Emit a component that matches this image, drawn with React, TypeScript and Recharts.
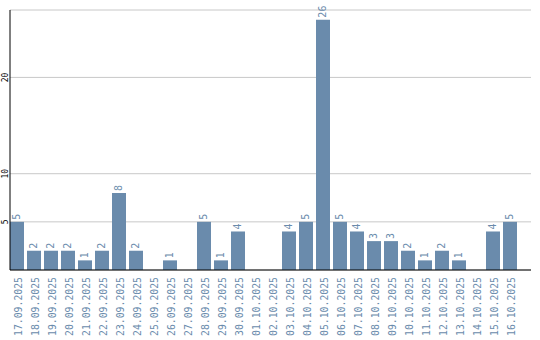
import { BarChart, Bar, XAxis, YAxis, CartesianGrid, LabelList, Rectangle } from "recharts";

const dates = [
  "17.09.2025", "18.09.2025", "19.09.2025", "20.09.2025", "21.09.2025",
  "22.09.2025", "23.09.2025", "24.09.2025", "25.09.2025", "26.09.2025",
  "27.09.2025", "28.09.2025", "29.09.2025", "30.09.2025", "01.10.2025",
  "02.10.2025", "03.10.2025", "04.10.2025", "05.10.2025", "06.10.2025",
  "07.10.2025", "08.10.2025", "09.10.2025", "10.10.2025", "11.10.2025",
  "12.10.2025", "13.10.2025", "14.10.2025", "15.10.2025", "16.10.2025",
];
const counts = [5, 2, 2, 2, 1, 2, 8, 2, 0, 1, 0, 5, 1, 4, 0, 0, 4, 5, 26, 5, 4, 3, 3, 2, 1, 2, 1, 0, 4, 5];
const yTicks = [5, 10, 20];

const data = dates.map((d, i) => ({ date: d, count: counts[i] }));

const BLUE = "#6a8bac";
const FONT = "'DejaVu Sans Mono', monospace";
const SHIFT = 1.5; // bars sit at the left of their slot

const DateTick = (props: any) => {
  const { x, payload } = props;
  const ty = 277;
  return (
    <text
      x={x}
      y={ty}
      dy="0.35em"
      textAnchor="end"
      transform={`rotate(-90, ${x}, ${ty})`}
      fill={BLUE}
      fontSize={9.8}
      fontFamily={FONT}
    >
      {payload.value}
    </text>
  );
};

const CountTick = (props: any) => {
  const { y, payload } = props;
  return (
    <text
      x={5}
      y={y}
      dy="0.35em"
      textAnchor="middle"
      transform={`rotate(-90, 5, ${y})`}
      fill="#000"
      fontSize={8}
      fontFamily={FONT}
    >
      {payload.value}
    </text>
  );
};

const ValueLabel = (props: any) => {
  const { x, y, width, value } = props;
  if (!value) return null;
  const cx = x - SHIFT + width / 2;
  const ty = y - 2;
  return (
    <text
      x={cx}
      y={ty}
      dy="0.35em"
      textAnchor="start"
      transform={`rotate(-90, ${cx}, ${ty})`}
      fill={BLUE}
      fontSize={10}
      fontFamily={FONT}
    >
      {value}
    </text>
  );
};

const ShiftedBar = (props: any) => (
  <Rectangle {...props} x={props.x - SHIFT} />
);

export default function App() {
  return (
    <div style={{ position: "absolute", left: 0, top: 0, background: "#fff" }}>
      <BarChart
        width={540}
        height={340}
        data={data}
        margin={{ top: 10, right: 9, bottom: 0, left: 0 }}
        barCategoryGap={1.5}
      >
        <CartesianGrid vertical={false} stroke="#c8c8c8" />
        <XAxis
          dataKey="date"
          interval={0}
          height={70}
          tickLine={false}
          axisLine={{ stroke: "#000", strokeWidth: 1 }}
          tick={<DateTick />}
          padding={{ left: 0, right: 11 }}
        />
        <YAxis
          width={10}
          domain={[0, 27]}
          ticks={yTicks}
          tickLine={false}
          axisLine={{ stroke: "#000", strokeWidth: 1 }}
          tick={<CountTick />}
        />
        <Bar dataKey="count" fill={BLUE} isAnimationActive={false} shape={<ShiftedBar />}>
          <LabelList dataKey="count" content={<ValueLabel />} />
        </Bar>
      </BarChart>
    </div>
  );
}
